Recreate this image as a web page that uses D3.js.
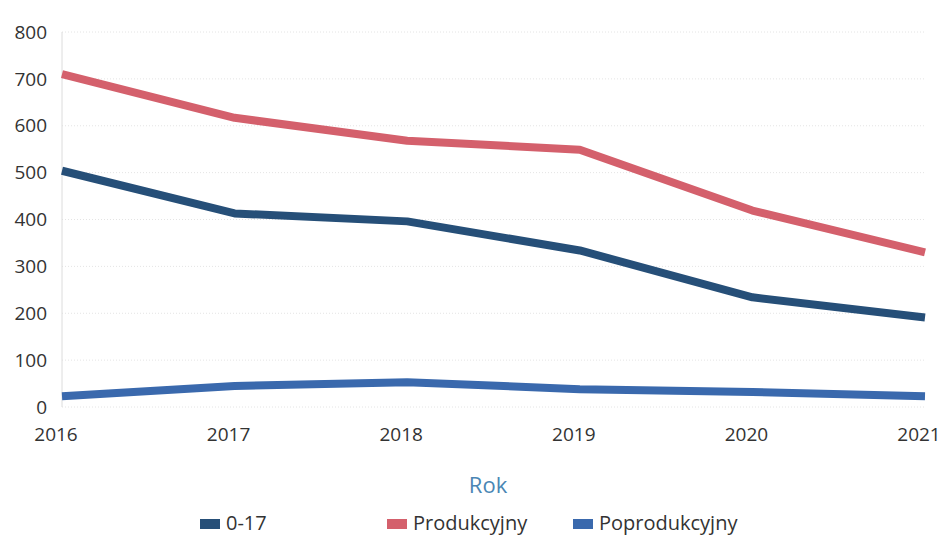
<!DOCTYPE html>
<html lang="pl">
<head>
<meta charset="utf-8">
<title>Rok</title>
<script src="https://d3js.org/d3.v7.min.js"></script>
<style>
  body { margin: 0; background: #fff; }
  svg { font-family: "Open Sans", sans-serif; }
</style>
</head>
<body>
<div id="chart"></div>
<script>
// data
var years = [2016, 2017, 2018, 2019, 2020, 2021];
var yTicks = [0, 100, 200, 300, 400, 500, 600, 700, 800];
var seriesNames = ["0-17", "Produkcyjny", "Poprodukcyjny"];
var seriesColors = ["#264f78", "#d4606c", "#3a69ad"];
var age0to17 = [504, 413, 396, 334, 234, 191];
var produkcyjny = [710, 617, 568, 549, 419, 330];
var poprodukcyjny = [23, 45, 53, 38, 32, 23];

var width = 944, height = 539;
var margin = {top: 32, right: 19, bottom: 132, left: 62};

var svg = d3.select("#chart").append("svg")
  .attr("width", width)
  .attr("height", height);

var x = d3.scalePoint()
  .domain(years)
  .range([margin.left, width - margin.right]);

var y = d3.scaleLinear()
  .domain([0, 800])
  .range([height - margin.bottom, margin.top]);

// faint dotted gridlines
svg.append("g").selectAll("line")
  .data(yTicks)
  .enter().append("line")
  .attr("x1", margin.left)
  .attr("x2", width - margin.right)
  .attr("y1", function(d) { return y(d); })
  .attr("y2", function(d) { return y(d); })
  .attr("stroke", "#e4e4e4")
  .attr("stroke-dasharray", "1,2");

// left axis line
svg.append("line")
  .attr("x1", margin.left).attr("x2", margin.left)
  .attr("y1", y(800)).attr("y2", y(0))
  .attr("stroke", "#dcdcdc");

// y tick labels
svg.append("g").selectAll("text")
  .data(yTicks)
  .enter().append("text")
  .attr("x", 47)
  .attr("y", function(d) { return y(d); })
  .attr("dy", "0.35em")
  .attr("text-anchor", "end")
  .attr("font-size", 19)
  .attr("fill", "#333")
  .text(function(d) { return d; });

// x tick labels (sit a little left of their points, as in the original)
svg.append("g").selectAll("text")
  .data(years)
  .enter().append("text")
  .attr("x", function(d) { return x(d) - 6; })
  .attr("y", 441)
  .attr("text-anchor", "middle")
  .attr("font-size", 19)
  .attr("fill", "#333")
  .text(function(d) { return d; });

// axis title
svg.append("text")
  .attr("x", 488)
  .attr("y", 493)
  .attr("text-anchor", "middle")
  .attr("font-size", 22)
  .attr("fill", "#4a86b4")
  .text("Rok");

var allSeries = [age0to17, produkcyjny, poprodukcyjny];

var line = d3.line()
  .x(function(d, i) { return x(years[i]); })
  .y(function(d) { return y(d); });

svg.append("g").selectAll("path")
  .data(allSeries)
  .enter().append("path")
  .attr("d", line)
  .attr("fill", "none")
  .attr("stroke", function(d, i) { return seriesColors[i]; })
  .attr("stroke-width", 8)
  .attr("stroke-linejoin", "round");

// legend
var legendX = [200, 387, 573];
var legend = svg.append("g").selectAll("g")
  .data(seriesNames)
  .enter().append("g")
  .attr("transform", function(d, i) { return "translate(" + legendX[i] + ",519)"; });

legend.append("rect")
  .attr("width", 20)
  .attr("height", 10)
  .attr("fill", function(d, i) { return seriesColors[i]; });

legend.append("text")
  .attr("x", 26)
  .attr("y", 11)
  .attr("font-size", 20)
  .attr("fill", "#333")
  .text(function(d) { return d; });
</script>
</body>
</html>
